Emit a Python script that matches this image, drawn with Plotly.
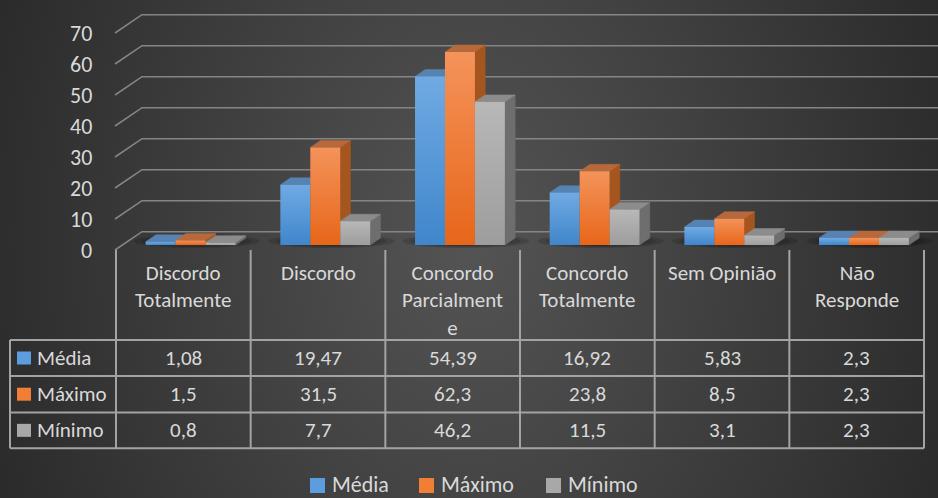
import base64
import numpy as np
import plotly.graph_objects as go

# ---- data -----------------------------------------------------------------
categories = ["Discordo Totalmente", "Discordo", "Concordo Parcialmente",
              "Concordo Totalmente", "Sem Opinião", "Não Responde"]
header_labels = ["Discordo<br>Totalmente", "Discordo", "Concordo<br>Parcialment<br>e",
                 "Concordo<br>Totalmente", "Sem Opinião", "Não<br>Responde"]
series_names = ["Média", "Máximo", "Mínimo"]
media = [1.08, 19.47, 54.39, 16.92, 5.83, 2.3]
maximo = [1.5, 31.5, 62.3, 23.8, 8.5, 2.3]
minimo = [0.8, 7.7, 46.2, 11.5, 3.1, 2.3]
y_ticks = [0, 10, 20, 30, 40, 50, 60, 70]

series_values = [media, maximo, minimo]

# ---- styling ----------------------------------------------------------------
FONT = "Carlito, Lato, sans-serif"
TEXT = "#d9d9d9"
GRID = "#858585"
TABLE_LINE = "#a3a3a3"

# front face gradient (bottom, top), top face, side face, key colour
STYLES = [
    dict(front=("#3f86cb", "#70aae3"), top="#5783b2", side="#3b6c9d", key="#5b9ddf"),
    dict(front=("#e7661a", "#f4935a"), top="#b8693c", side="#a5561f", key="#f07f35"),
    dict(front=("#9d9d9d", "#b8b8b8"), top="#8c8c8c", side="#6e6e6e", key="#a8a8a8"),
]

W, H = 938, 498
CAT_PX = 134.67   # width of one category column in pixels
VAL_PX = 3.1      # pixels per value unit
X0_PX = 116       # left edge of the first category column
Y0_PX = 250       # zero of the front plane

x_range = [(0 - X0_PX) / CAT_PX - 0.5, (W - X0_PX) / CAT_PX - 0.5]
y_range = [(Y0_PX - H) / VAL_PX, Y0_PX / VAL_PX]


def px_x(p):
    return (p - X0_PX) / CAT_PX - 0.5


def px_y(p):
    return (Y0_PX - p) / VAL_PX


# oblique depth projection
DX = 27 / CAT_PX
DY = 18.3 / VAL_PX
D0, D1 = 0.27, 0.65      # bar depth slab
BW = 0.2225              # width of one bar in category units
XL = px_x(115)           # left wall of the box


def proj(x, v, d):
    return x + d * DX, v + d * DY


def poly(pts):
    xs = [p[0] for p in pts] + [pts[0][0]]
    ys = [p[1] for p in pts] + [pts[0][1]]
    return xs, ys


fig = go.Figure()

# ---- walls / gridlines --------------------------------------------------------
gx, gy = [], []
for v in y_ticks:
    a = proj(XL, v, 0)
    b = proj(XL, v, 1)
    gx += [a[0], b[0], x_range[1] + 1, None]
    gy += [a[1], b[1], b[1], None]
fig.add_trace(go.Scatter(x=gx, y=gy, mode="lines", line=dict(color=GRID, width=1.6),
                         hoverinfo="skip", showlegend=False))

# ---- soft shadows at the bar bases ---------------------------------------------
t = np.linspace(0, 2 * np.pi, 60)
for s in range(6):
    f = 1.0 - s * 0.13
    sx, sy = [], []
    for i in range(len(categories)):
        cx, cy = proj(i, 0, 0.49)
        sx += list(cx + 0.47 * f * np.cos(t)) + [None]
        sy += list(cy + 2.3 * f * np.sin(t)) + [None]
    fig.add_trace(go.Scatter(x=sx, y=sy, mode="lines", line=dict(width=0),
                             fill="toself", fillcolor="rgba(0,0,0,0.13)",
                             hoverinfo="skip", showlegend=False))

# ---- 3-D columns -------------------------------------------------------------
for i in range(len(categories)):
    for k, vals in enumerate(series_values):
        v = vals[i]
        st = STYLES[k]
        xl = i - 1.5 * BW + k * BW
        xr = xl + BW
        side = [proj(xr, 0, D0), proj(xr, 0, D1), proj(xr, v, D1), proj(xr, v, D0)]
        top = [proj(xl, v, D0), proj(xr, v, D0), proj(xr, v, D1), proj(xl, v, D1)]
        front = [proj(xl, 0, D0), proj(xr, 0, D0), proj(xr, v, D0), proj(xl, v, D0)]
        for pts, col in ((side, st["side"]), (top, st["top"])):
            xs, ys = poly(pts)
            fig.add_trace(go.Scatter(x=xs, y=ys, mode="lines", line=dict(width=0.5, color=col),
                                     fill="toself", fillcolor=col,
                                     hoverinfo="skip", showlegend=False))
        xs, ys = poly(front)
        fig.add_trace(go.Scatter(
            x=xs, y=ys, mode="lines", line=dict(width=0), fill="toself",
            fillgradient=dict(type="vertical",
                              colorscale=[[0, st["front"][0]], [1, st["front"][1]]]),
            name=series_names[k], hovertemplate=f"{categories[i]}<br>{series_names[k]}: {v}<extra></extra>",
            showlegend=False))

shapes = []
annotations = []

# ---- value axis labels ---------------------------------------------------------
for v in y_ticks:
    ax_, ay_ = proj(XL, v, 0)
    annotations.append(dict(x=ax_, y=ay_, xref="x", yref="y", text=str(v), showarrow=False,
                            xanchor="right", yanchor="middle", xshift=-21,
                            font=dict(family=FONT, size=22, color=TEXT)))

# ---- data table -----------------------------------------------------------------
row_lines = [340, 376, 412.4, 448.3]
left_px = 10
line_style = dict(color=TABLE_LINE, width=2)
for i in range(len(categories) + 1):
    shapes.append(dict(type="line", xref="x", yref="y", x0=i - 0.5, x1=i - 0.5,
                       y0=px_y(250), y1=px_y(row_lines[-1]), line=line_style))
for r in row_lines:
    shapes.append(dict(type="line", xref="x", yref="y", x0=px_x(left_px), x1=len(categories) - 0.5,
                       y0=px_y(r), y1=px_y(r), line=line_style))
shapes.append(dict(type="line", xref="x", yref="y", x0=px_x(left_px), x1=px_x(left_px),
                   y0=px_y(row_lines[0]), y1=px_y(row_lines[-1]), line=line_style))

for i, lab in enumerate(header_labels):
    annotations.append(dict(x=i, y=px_y(258), xref="x", yref="y", text=lab, showarrow=False,
                            xanchor="center", yanchor="top", align="center",
                            font=dict(family=FONT, size=21, color=TEXT)))


def fmt(v):
    return f"{v:g}".replace(".", ",")


for k, vals in enumerate(series_values):
    yc = (row_lines[k] + row_lines[k + 1]) / 2
    shapes.append(dict(type="rect", xref="x", yref="y", x0=px_x(17), x1=px_x(31),
                       y0=px_y(yc - 6.5), y1=px_y(yc + 6.5),
                       fillcolor=STYLES[k]["key"], line=dict(width=0)))
    annotations.append(dict(x=px_x(35), y=px_y(yc), xref="x", yref="y", text=series_names[k],
                            showarrow=False, xanchor="left", yanchor="middle",
                            font=dict(family=FONT, size=21, color=TEXT)))
    for i, v in enumerate(vals):
        annotations.append(dict(x=i, y=px_y(yc), xref="x", yref="y", text=fmt(v),
                                showarrow=False, xanchor="center", yanchor="middle",
                                font=dict(family=FONT, size=21, color=TEXT)))

# ---- legend -----------------------------------------------------------------------
legend_x = [310, 419, 546]
legend_y = 484
for k, name in enumerate(series_names):
    shapes.append(dict(type="rect", xref="x", yref="y", x0=px_x(legend_x[k]),
                       x1=px_x(legend_x[k] + 15), y0=px_y(legend_y - 6), y1=px_y(legend_y + 9),
                       fillcolor=STYLES[k]["key"], line=dict(width=0)))
    annotations.append(dict(x=px_x(legend_x[k] + 20), y=px_y(legend_y), xref="x", yref="y", text=name,
                            showarrow=False, xanchor="left", yanchor="middle",
                            font=dict(family=FONT, size=22, color=TEXT)))

# ---- background -------------------------------------------------------------------
svg = (
    f'<svg xmlns="http://www.w3.org/2000/svg" width="{W}" height="{H}" viewBox="0 0 {W} {H}">'
    '<defs><radialGradient id="g" gradientUnits="userSpaceOnUse" cx="470" cy="240" r="550" '
    'gradientTransform="translate(470 240) scale(1 1.35) translate(-470 -240)">'
    '<stop offset="0" stop-color="#545454"/><stop offset="1" stop-color="#272727"/>'
    '</radialGradient></defs>'
    f'<rect width="{W}" height="{H}" fill="url(#g)"/></svg>'
)
bg_src = "data:image/svg+xml;base64," + base64.b64encode(svg.encode()).decode()

fig.update_layout(
    width=W, height=H,
    margin=dict(l=0, r=0, t=0, b=0),
    paper_bgcolor="#3d3d3d",
    plot_bgcolor="rgba(0,0,0,0)",
    xaxis=dict(range=x_range, visible=False, fixedrange=True),
    yaxis=dict(range=y_range, visible=False, fixedrange=True),
    showlegend=False,
    shapes=shapes,
    annotations=annotations,
    images=[dict(source=bg_src, xref="paper", yref="paper", x=0, y=1, sizex=1, sizey=1,
                 xanchor="left", yanchor="top", sizing="stretch", layer="below")],
)

fig.write_html("out.html")
